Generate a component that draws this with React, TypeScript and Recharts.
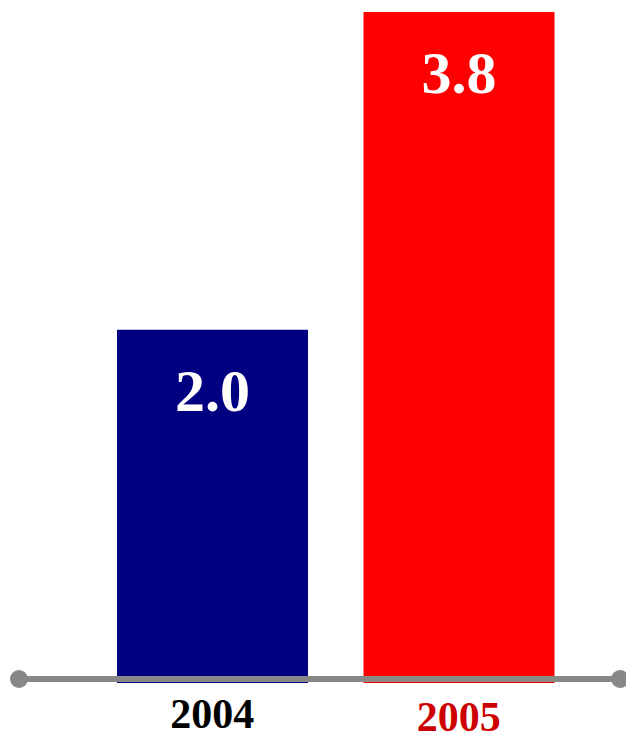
import React from 'react';
import { BarChart, Bar, XAxis, YAxis, Cell, LabelList } from 'recharts';

const categories = ['2004', '2005'];
const values = [2.0, 3.8];
const barColors = ['#000080', '#FF0000'];
const tickColors = ['#000000', '#CC0000'];
const tickOffsets = [45, 48];

const data = categories.map((c, i) => ({ year: c, value: values[i] }));

const W = 626;
const H = 733;
const AXIS_H = 30;
const MARGIN = { top: 12, right: 6, left: 19, bottom: 20 };
const PLOT_LEFT = MARGIN.left;
const PLOT_RIGHT = W - MARGIN.right;
const PLOT_BOTTOM = H - MARGIN.bottom - AXIS_H;
const FONT = '"Liberation Serif", "Times New Roman", serif';

// Baseline decoration (gray rule with round end caps), drawn above the bars
const AxisDecor = (props: any) => {
  if (props.index !== 0) return null;
  const y = PLOT_BOTTOM - 4;
  return (
    <g>
      <line x1={PLOT_LEFT} x2={PLOT_RIGHT} y1={y} y2={y} stroke="#888888" strokeWidth={6} />
      <circle cx={PLOT_LEFT} cy={y} r={9} fill="#888888" />
      <circle cx={PLOT_RIGHT} cy={y} r={9} fill="#888888" />
    </g>
  );
};

const Tick = (props: any) => {
  const { x, y, payload } = props;
  const i = categories.indexOf(payload.value);
  return (
    <text
      x={x}
      y={y + tickOffsets[i]}
      textAnchor="middle"
      fill={tickColors[i]}
      fontSize={42}
      fontWeight="bold"
      fontFamily={FONT}
    >
      {payload.value}
    </text>
  );
};

const ValueLabel = (props: any) => {
  const { x, y, width, value } = props;
  return (
    <text
      x={x + width / 2}
      y={y + 81}
      textAnchor="middle"
      fill="#FFFFFF"
      fontSize={60}
      fontWeight="bold"
      fontFamily={FONT}
    >
      {Number(value).toFixed(1)}
    </text>
  );
};

export default function App() {
  return (
    <div style={{ width: W, height: H, background: '#fff' }}>
      <style>{`body{margin:0}`}</style>
      <BarChart width={W} height={H} data={data} margin={MARGIN}>
        <YAxis hide domain={[0, 3.8]} />
        <XAxis
          dataKey="year"
          height={AXIS_H}
          axisLine={false}
          tickLine={false}
          tickSize={0}
          tickMargin={0}
          padding={{ left: 70, right: 38 }}
          tick={<Tick />}
          interval={0}
        />
        <Bar dataKey="value" barSize={191} isAnimationActive={false}>
          {data.map((d, i) => (
            <Cell key={d.year} fill={barColors[i]} />
          ))}
          <LabelList dataKey="value" content={<ValueLabel />} />
          <LabelList dataKey="value" content={<AxisDecor />} />
        </Bar>
      </BarChart>
    </div>
  );
}
